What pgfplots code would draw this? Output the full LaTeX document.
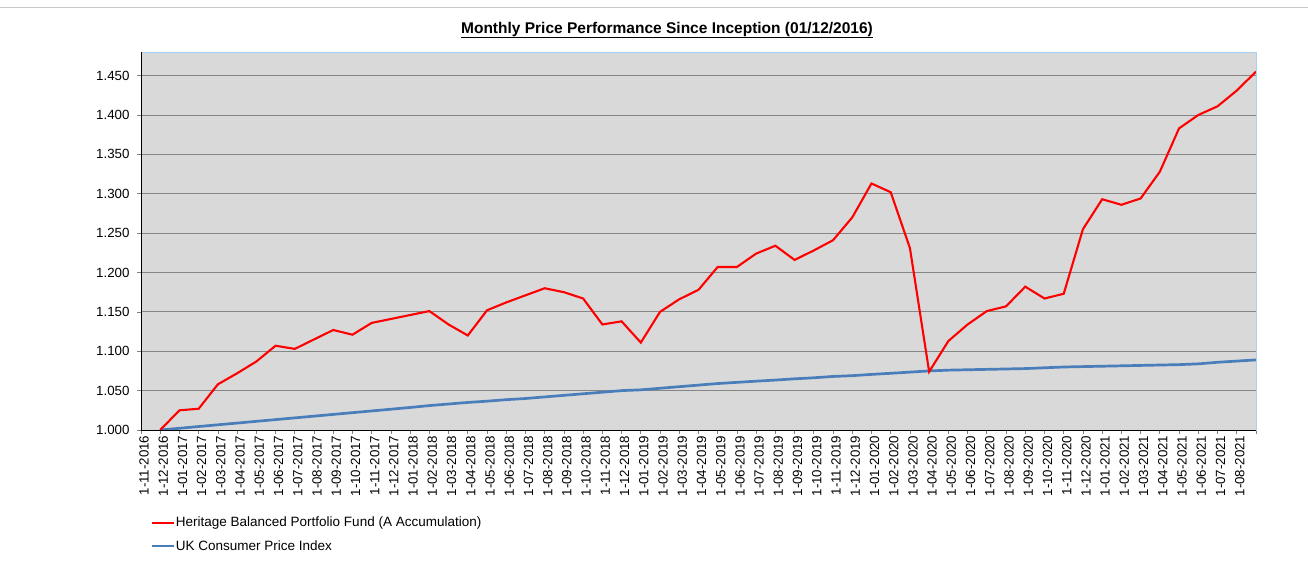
\documentclass[border=0pt]{standalone}
\usepackage{pgfplots}
\pgfplotsset{compat=1.18}
\usepackage{fontspec}
\setmainfont{Liberation Sans}
\definecolor{plotbg}{HTML}{D9D9D9}
\definecolor{gridc}{HTML}{868686}
\definecolor{fundred}{HTML}{FF0000}
\definecolor{cpiblue}{HTML}{4A7EBB}
\definecolor{frameblue}{HTML}{A9D0F5}
\pgfplotstableread{
idx val
1 1.000
2 1.025
3 1.027
4 1.058
5 1.072
6 1.087
7 1.107
8 1.103
9 1.115
10 1.127
11 1.121
12 1.136
13 1.141
14 1.146
15 1.151
16 1.134
17 1.120
18 1.152
19 1.162
20 1.171
21 1.180
22 1.175
23 1.167
24 1.134
25 1.138
26 1.111
27 1.150
28 1.166
29 1.178
30 1.207
31 1.207
32 1.224
33 1.234
34 1.216
35 1.228
36 1.241
37 1.270
38 1.313
39 1.302
40 1.231
41 1.074
42 1.113
43 1.134
44 1.151
45 1.157
46 1.182
47 1.167
48 1.173
49 1.255
50 1.293
51 1.286
52 1.294
53 1.328
54 1.383
55 1.400
56 1.411
57 1.431
58 1.455
}\fund
\pgfplotstableread{
idx val
1 1.000
2 1.0022
3 1.0044
4 1.0066
5 1.0088
6 1.011
7 1.0132
8 1.0154
9 1.0176
10 1.0198
11 1.022
12 1.0242
13 1.0264
14 1.0286
15 1.031
16 1.033
17 1.035
18 1.0366
19 1.0385
20 1.040
21 1.042
22 1.044
23 1.046
24 1.048
25 1.050
26 1.051
27 1.053
28 1.055
29 1.057
30 1.059
31 1.0605
32 1.062
33 1.0634
34 1.065
35 1.0663
36 1.068
37 1.069
38 1.0706
39 1.072
40 1.0735
41 1.075
42 1.076
43 1.0765
44 1.077
45 1.0775
46 1.078
47 1.079
48 1.080
49 1.0805
50 1.081
51 1.0815
52 1.082
53 1.0825
54 1.083
55 1.084
56 1.086
57 1.0875
58 1.089
}\cpi
\begin{document}
\begin{tikzpicture}[x=1pt,y=1pt]
\begin{axis}[
  at={(0,0)}, anchor=south west,
  scale only axis, width=1115pt, height=378pt,
  xmin=0, xmax=58, ymin=1, ymax=1.48,
  axis background/.style={fill=plotbg},
  axis line style={frameblue, line width=0.8pt},
  ymajorgrids, grid style={gridc, line width=0.9pt},
  ytick={1,1.05,1.1,1.15,1.2,1.25,1.3,1.35,1.4,1.45},
  scaled y ticks=false,
  yticklabel style={xshift=-4pt, /pgf/number format/fixed, /pgf/number format/fixed zerofill, /pgf/number format/precision=3, /pgf/number format/1000 sep={}, /pgf/number format/assume math mode=true},
  xtick={0,...,58},
  xticklabels={1-11-2016,1-12-2016,
    1-01-2017,1-02-2017,1-03-2017,1-04-2017,1-05-2017,1-06-2017,1-07-2017,1-08-2017,1-09-2017,1-10-2017,1-11-2017,1-12-2017,
    1-01-2018,1-02-2018,1-03-2018,1-04-2018,1-05-2018,1-06-2018,1-07-2018,1-08-2018,1-09-2018,1-10-2018,1-11-2018,1-12-2018,
    1-01-2019,1-02-2019,1-03-2019,1-04-2019,1-05-2019,1-06-2019,1-07-2019,1-08-2019,1-09-2019,1-10-2019,1-11-2019,1-12-2019,
    1-01-2020,1-02-2020,1-03-2020,1-04-2020,1-05-2020,1-06-2020,1-07-2020,1-08-2020,1-09-2020,1-10-2020,1-11-2020,1-12-2020,
    1-01-2021,1-02-2021,1-03-2021,1-04-2021,1-05-2021,1-06-2021,1-07-2021,1-08-2021,{}},
  xticklabel style={rotate=90, anchor=east, inner sep=1.5pt, yshift=-3pt},
  ticklabel style={font=\fontsize{13.3}{15}\selectfont},
  tick pos=left, tick align=outside, major tick length=4pt,
  tick style={gray, line width=0.7pt},
  legend style={draw=none, fill=none, at={(0.0081,-0.227)}, anchor=north west,
    font=\fontsize{13.5}{15}\selectfont, row sep=10pt, inner sep=0pt,
    nodes={inner sep=1pt}},
  legend cell align=left,
  legend image code/.code={\draw[#1] (0pt,0pt) -- (22pt,0pt);},
  after end axis/.code={
    \draw[black, line width=1pt] (rel axis cs:0,1) -- (rel axis cs:0,0) -- (rel axis cs:1,0);
  },
]
\addplot[cpiblue, line width=2.7pt, forget plot] table[x=idx, y=val] {\cpi};
\addplot[fundred, line width=2.1pt] table[x=idx, y=val] {\fund};
\addlegendentry{Heritage Balanced Portfolio Fund (A Accumulation)}
\addlegendimage{cpiblue, line width=2.7pt}
\addlegendentry{UK Consumer Price Index}
\end{axis}
\node[font=\fontsize{15.5}{17}\selectfont\bfseries] at (526,400) {\underline{Monthly Price Performance Since Inception (01/12/2016)}};
\draw[gray!45, line width=0.8pt] (-141,423) -- (1167,423);
\pgfresetboundingbox
\useasboundingbox (-141,-156) rectangle (1167,430);
\end{tikzpicture}
\end{document}
